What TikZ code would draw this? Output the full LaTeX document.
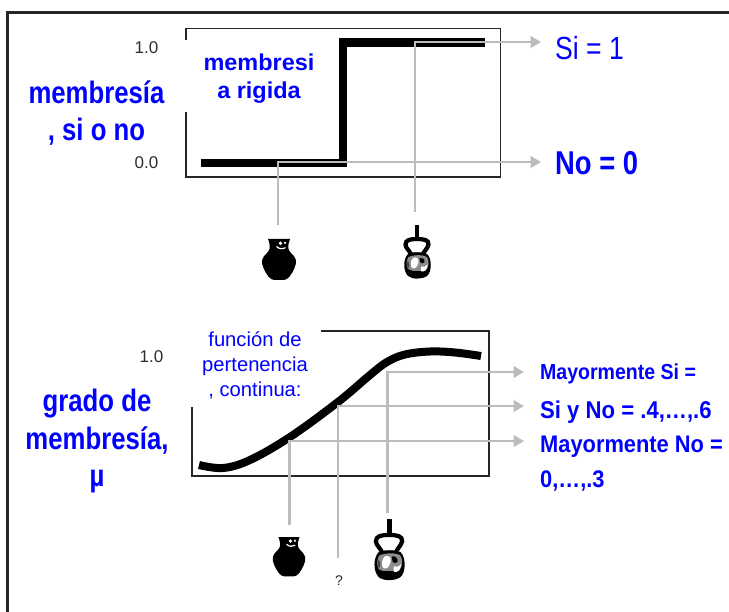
\documentclass[tikz,border=0pt]{standalone}
\usepackage{fontspec}
\setmainfont{Liberation Sans}
\usetikzlibrary{arrows.meta}
\definecolor{lblblue}{RGB}{0,0,255}
\definecolor{conngrey}{RGB}{188,188,188}
\definecolor{framedark}{RGB}{38,38,38}
\definecolor{tickdark}{RGB}{45,45,45}
\newcommand{\narrowbold}[3]{\fontsize{#1}{#2}\bfseries\selectfont\addfontfeature{FakeStretch=#3}}
\newcommand{\narrowplain}[3]{\fontsize{#1}{#2}\selectfont\addfontfeature{FakeStretch=#3}}
\tikzset{
  outerframe/.style={draw=framedark,line width=2.6pt},
  plotframe/.style={draw=framedark,line width=1.3pt,line join=miter},
  curveline/.style={draw=black,line width=8.2pt,line join=miter},
  softcurve/.style={draw=black,line width=8pt},
  connector/.style={draw=conngrey,line width=2.4pt},
  connarrow/.style={connector,-{Triangle[length=10.5pt,width=11.5pt,fill=conngrey]}},
  lbl/.style={text=lblblue,inner sep=0pt,align=center},
  lblwest/.style={text=lblblue,inner sep=0pt,anchor=base west},
  ticklabel/.style={text=tickdark,font=\fontsize{17}{17}\selectfont,inner sep=0pt},
  pics/jar/.style={code={
    \fill[black] (-11,0) -- (11,0) -- (10,3) .. controls (8.5,8) and (9,11) .. (12,14)
      .. controls (17,18) and (18.5,23) .. (15.5,29) .. controls (13,35) and (9,41) .. (5,41)
      -- (-5,41) .. controls (-9,41) and (-13,35) .. (-15.5,29)
      .. controls (-18.5,23) and (-17,18) .. (-12,14) .. controls (-9,11) and (-8.5,8) .. (-10,3) -- cycle;
    \fill[white] (1.5,4.2) circle (1.9);
    \fill[white] (6,3.9) circle (1.3);
    \draw[white,line width=1.2pt] (-2.5,7.5) .. controls (0,10.2) and (4,10.2) .. (6.5,8.6);
  }},
  pics/kettle/.style={code={
    \fill[black] (-2,0) rectangle (2.2,14);
    \draw[black,line width=4.2pt] (0,14) .. controls (7,14) and (12,15) .. (11.5,19.5)
      .. controls (11,23) and (7,26) .. (6,29.5) -- (-6,29.5)
      .. controls (-7,26) and (-11.5,23) .. (-11.5,19.5) .. controls (-11.5,15) and (-7,14) .. (0,14);
    \fill[black] (-9,29) .. controls (-4,27) and (6,27) .. (10,29)
      .. controls (15,33) and (15,47) .. (10,51) .. controls (5,54.5) and (-5,54.5) .. (-9,51)
      .. controls (-14,46) and (-14,34) .. (-9,29) -- cycle;
    \fill[black!45] (-8.5,32) .. controls (-3,29.5) and (6,29.5) .. (10,32)
      .. controls (12.5,36) and (12,42) .. (9,45) .. controls (5,47) and (-4,47) .. (-9,44)
      .. controls (-11,40) and (-11,36) .. (-8.5,32) -- cycle;
    \fill[white] (-4,33) .. controls (-1,31.5) and (2,33) .. (1.5,37) .. controls (1,41) and (-2,45) .. (-5,43)
      .. controls (-7,40) and (-6.5,36) .. (-4,33) -- cycle;
    \fill[black] (2.5,33) .. controls (5,32) and (8,34) .. (7.5,37) .. controls (7,39) and (3.5,39) .. (3,37) -- cycle;
    \fill[black!75] (-9.5,36) .. controls (-8,36) and (-7,40) .. (-8.5,43) .. controls (-10,42) and (-10.5,38) .. (-9.5,36) -- cycle;
    \fill[white] (4,41.5) .. controls (6,42.5) and (9,42) .. (10.5,39.5) .. controls (10.5,44) and (8,47.5) .. (4,46.5) -- cycle;
    \fill[black] (-4,46) rectangle (4,50);
  }}
}
\begin{document}
\begin{tikzpicture}[x=1pt,y=-1pt]
\useasboundingbox (0,0) rectangle (729,612);
\fill[white] (0,0) rectangle (729,612);
% outer frame
\draw[outerframe] (7.5,612) -- (7.5,12.5) -- (729,12.5);

% upper plot
\draw[plotframe] (186,40) -- (186,28.5) -- (500.5,28.5) -- (500.5,177) -- (186,177) -- (186,112);
\draw[curveline] (201,163) -- (343,163) -- (343,42.5) -- (485,42.5);
\coordinate (lowA) at (278,225);
\coordinate (lowB) at (415,212);
\coordinate (tipSi) at (541,42);
\coordinate (tipNo) at (541,162);
\draw[connarrow] (lowB) |- (tipSi);
\draw[connarrow] (lowA) |- (tipNo);

\node[ticklabel] (tickA) at (146.5,47.5) {1.0};
\node[ticklabel] (tickB) at (146.5,163) {0.0};
\node[lbl,font=\narrowbold{23}{28.5}{1.02}] (rigid) at (259,78.5) {membresi\\a rigida};
\node[lbl,font=\narrowbold{31}{37.5}{.83}] (left1) at (96.5,113) {membresía\\, si o no};
\node[lblwest,font=\narrowplain{32}{32}{.83}] (si) at (555,60) {Si = 1};
\node[lblwest,font=\narrowbold{33}{33}{.83}] (no) at (555,175) {No = 0};
\pic at (279,239) {jar};
\pic at (417,225) {kettle};

% lower plot
\draw[plotframe] (321,331) -- (489,331) -- (489,476) -- (192,476) -- (192,407);
\draw[softcurve] plot[smooth,tension=.6] coordinates {(199,465) (223,468) (250,460) (290,437) (338,402) (370,375) (387,362) (405,354.5) (430,351.5) (455,352.5) (481,356)};
\coordinate (lowC) at (289.5,525);
\coordinate (lowD) at (338,558);
\coordinate (lowE) at (387.5,513);
\coordinate (tipMs) at (524,372);
\coordinate (tipSn) at (524,406);
\coordinate (tipMn) at (524,441);
\draw[connarrow] (lowE) |- (tipMs);
\draw[connarrow] (lowD) |- (tipSn);
\draw[connarrow] (lowC) |- (tipMn);

\node[ticklabel] (tickC) at (151.5,357) {1.0};
\node[lbl,font=\narrowplain{20.2}{25}{1}] (func) at (255,365) {función de\\pertenencia\\, continua:};
\node[lbl,font=\narrowbold{31}{37.5}{.83}] (left2) at (97,441) {grado de\\membresía,\\µ};
\node[lblwest,font=\narrowbold{21.7}{21.7}{.9}] (msi) at (540,379.5) {Mayormente Si =};
\node[lblwest,font=\narrowbold{24.3}{24.3}{.91}] (syn) at (540,419) {Si y No = .4,…,.6};
\node[lblwest,font=\narrowbold{24}{24}{.91}] (mno) at (540,452.5) {Mayormente No =};
\node[lblwest,font=\narrowbold{24}{24}{.91}] (rng) at (540,487.5) {0,…,.3};
\node[text=tickdark,font=\fontsize{14}{14}\selectfont,inner sep=0pt] (q) at (339,581) {?};
\pic[scale=.96] at (289,537) {jar};
\pic[scale=1.14] at (389,519) {kettle};
\end{tikzpicture}
\end{document}
